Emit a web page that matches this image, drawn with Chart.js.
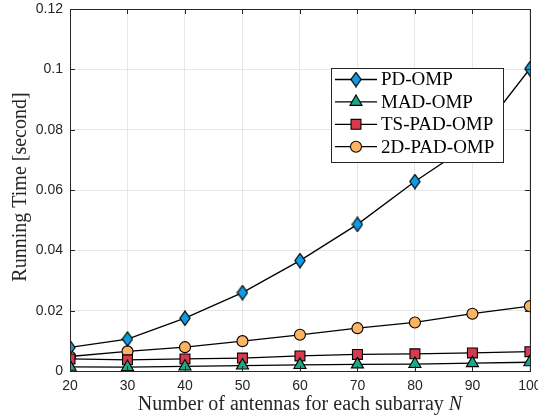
<!DOCTYPE html>
<html>
<head>
<meta charset="utf-8">
<script src="https://cdn.jsdelivr.net/npm/chart.js@4"></script>
<style>
    html, body { margin: 0; padding: 0; background: #fff; }
    #contenedor { width: 538px; height: 419px; }
</style>
</head>
<body>
<div id="contenedor"><canvas id="tiempos"></canvas></div>
<script>
// datos
var antenas = [20, 30, 40, 50, 60, 70, 80, 90, 100];
var pdOmp = [0.0078, 0.0106, 0.0175, 0.0260, 0.0366, 0.0486, 0.0628, 0.0756, 0.1002];
var madOmp = [0.0014, 0.0013, 0.0015, 0.0018, 0.0020, 0.0022, 0.0023, 0.0026, 0.0029];
var tsPadOmp = [0.0040, 0.0037, 0.0040, 0.0043, 0.0050, 0.0055, 0.0057, 0.0060, 0.0064];
var padOmp2d = [0.0048, 0.0065, 0.0079, 0.0099, 0.0120, 0.0142, 0.0161, 0.0190, 0.0215];
var etiquetas = ['PD-OMP', 'MAD-OMP', 'TS-PAD-OMP', '2D-PAD-OMP'];
var ticksY = [0, 0.02, 0.04, 0.06, 0.08, 0.1, 0.12];

var fuenteSerif = '"Liberation Serif", "DejaVu Serif", serif';
var fuenteSans = '"Liberation Sans", Arial, sans-serif';

function rombo() {
    var c = document.createElement('canvas');
    c.width = 12;
    c.height = 16;
    var g = c.getContext('2d');
    g.beginPath();
    g.moveTo(6, 0.9);
    g.lineTo(11.1, 8);
    g.lineTo(6, 15.1);
    g.lineTo(0.9, 8);
    g.closePath();
    g.fillStyle = '#0d9de6';
    g.fill();
    g.lineWidth = 1.2;
    g.strokeStyle = '#000';
    g.stroke();
    return c;
}

function puntos(valores) {
    var lista = [];
    for (var i = 0; i < antenas.length; i++) {
        lista.push({ x: antenas[i], y: valores[i] });
    }
    return lista;
}

function serie(nombre, valores, estilo, color, radio) {
    return {
        label: nombre,
        data: puntos(valores),
        borderColor: '#000',
        borderWidth: 1.3,
        pointStyle: estilo,
        pointRadius: radio,
        pointHoverRadius: radio,
        pointBackgroundColor: color,
        pointBorderColor: '#000',
        pointBorderWidth: 1.1,
        fill: false,
        tension: 0
    };
}

// caja, marcas internas, titulos y leyenda estilo matlab
var extras = {
    id: 'extras',
    afterDraw: function (chart) {
        var ctx = chart.ctx;
        var a = chart.chartArea;
        var sx = chart.scales.x;
        var sy = chart.scales.y;
        ctx.save();
        ctx.strokeStyle = '#262626';
        ctx.lineWidth = 1;
        ctx.beginPath();
        for (var v = 20; v <= 100; v += 10) {
            var px = Math.round(sx.getPixelForValue(v)) + 0.5;
            ctx.moveTo(px, a.bottom); ctx.lineTo(px, a.bottom - 5);
            ctx.moveTo(px, a.top); ctx.lineTo(px, a.top + 5);
        }
        for (var k = 0; k < ticksY.length; k++) {
            var py = Math.round(sy.getPixelForValue(ticksY[k])) + 0.5;
            ctx.moveTo(a.left, py); ctx.lineTo(a.left + 5, py);
            ctx.moveTo(a.right, py); ctx.lineTo(a.right - 5, py);
        }
        ctx.stroke();
        ctx.strokeRect(Math.round(a.left) + 0.5, Math.round(a.top) + 0.5,
            Math.round(a.right - a.left), Math.round(a.bottom - a.top));

        // titulo eje x con N en cursiva
        ctx.fillStyle = '#262626';
        ctx.textBaseline = 'middle';
        var t1 = 'Number of antennas for each subarray ';
        ctx.font = '20px ' + fuenteSerif;
        var w1 = ctx.measureText(t1).width;
        ctx.font = 'italic 20px ' + fuenteSerif;
        var w2 = ctx.measureText('N').width;
        var x0 = (a.left + a.right) / 2 - (w1 + w2) / 2;
        ctx.textAlign = 'left';
        ctx.font = '20px ' + fuenteSerif;
        ctx.fillText(t1, x0, 405);
        ctx.font = 'italic 20px ' + fuenteSerif;
        ctx.fillText('N', x0 + w1, 405);

        // titulo eje y
        ctx.save();
        ctx.translate(21, 187);
        ctx.rotate(-Math.PI / 2);
        ctx.textAlign = 'center';
        ctx.font = '20px ' + fuenteSerif;
        ctx.fillText('Running Time [second]', 0, 0);
        ctx.restore();

        // leyenda
        var lx = a.left + 261;
        var ly = a.top + 59;
        ctx.fillStyle = '#fff';
        ctx.fillRect(lx, ly, 172, 94);
        ctx.strokeStyle = '#262626';
        ctx.strokeRect(lx + 0.5, ly + 0.5, 172, 94);
        var ds = chart.data.datasets;
        for (var i = 0; i < ds.length; i++) {
            var fy = ly + 11.5 + i * 22.4;
            ctx.strokeStyle = '#000';
            ctx.lineWidth = 1.3;
            ctx.beginPath();
            ctx.moveTo(lx + 4, fy);
            ctx.lineTo(lx + 46, fy);
            ctx.stroke();
            ctx.fillStyle = ds[i].pointBackgroundColor;
            ctx.lineWidth = 1.1;
            Chart.helpers.drawPoint(ctx, {
                pointStyle: ds[i].pointStyle,
                radius: ds[i].pointRadius,
                rotation: 0,
                borderWidth: 1.1
            }, lx + 25, fy);
            ctx.fillStyle = '#000';
            ctx.textAlign = 'left';
            ctx.font = '19px ' + fuenteSerif;
            ctx.fillText(ds[i].label, lx + 50, fy + 1);
        }
        ctx.restore();
    }
};

const ctx = document.getElementById('tiempos').getContext('2d');
const grafica = new Chart(ctx, {
    type: 'line',
    data: {
        datasets: [
            serie(etiquetas[0], pdOmp, rombo(), '#0d9de6', 7),
            serie(etiquetas[1], madOmp, 'triangle', '#1aa888', 7),
            serie(etiquetas[2], tsPadOmp, 'rect', '#d63a4c', 7),
            serie(etiquetas[3], padOmp2d, 'circle', '#fdb462', 5.5)
        ]
    },
    options: {
        responsive: true,
        maintainAspectRatio: false,
        animation: false,
        events: [],
        layout: { padding: { top: 9, right: 8, left: 0, bottom: 0 } },
        plugins: {
            legend: { display: false },
            tooltip: { enabled: false }
        },
        scales: {
            x: {
                type: 'linear',
                min: 20,
                max: 100,
                ticks: {
                    stepSize: 10,
                    color: '#262626',
                    font: { family: fuenteSans, size: 14 },
                    padding: 7,
                    maxRotation: 0
                },
                grid: { color: '#e6e6e6', drawTicks: false },
                border: { display: false },
                afterFit: function (scale) {
                    scale.height = 48;
                    scale.paddingLeft = 0;
                    scale.paddingRight = 0;
                }
            },
            y: {
                min: 0,
                max: 0.12,
                afterBuildTicks: function (scale) {
                    scale.ticks = ticksY.map(function (v) { return { value: v }; });
                },
                ticks: {
                    color: '#262626',
                    font: { family: fuenteSans, size: 14 },
                    padding: 7,
                    callback: function (v) { return String(+v.toFixed(2)); }
                },
                grid: { color: '#e6e6e6', drawTicks: false },
                border: { display: false },
                afterFit: function (scale) {
                    scale.width = 70;
                    scale.paddingTop = 0;
                    scale.paddingBottom = 0;
                }
            }
        }
    },
    plugins: [extras]
});
</script>
</body>
</html>
